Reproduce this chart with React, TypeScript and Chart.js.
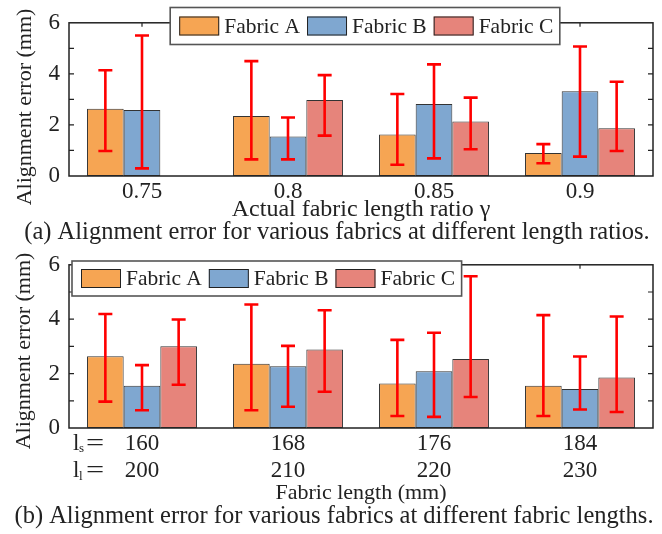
import React, { useEffect, useRef } from 'react';
import { Chart, registerables } from 'chart.js';

Chart.register(...registerables);

const FONT = "'Liberation Serif', 'Times New Roman', serif";
const TEXT = '#222222';

const seriesNames = ['Fabric A', 'Fabric B', 'Fabric C'];
const seriesColors = ['#F6A553', '#7FA7D0', '#E6847B'];
const yTicksShown = [0, 2, 4, 6];

// (a) length ratios
const ratioLabels = ['0.75', '0.8', '0.85', '0.9'];
const ratioMeanA = [2.63, 2.35, 1.63, 0.9];
const ratioMeanB = [2.58, 1.55, 2.82, 3.32];
const ratioMeanC = [null, 2.98, 2.13, 1.87];
const ratioLowA = [0.98, 0.65, 0.44, 0.5];
const ratioHighA = [4.14, 4.5, 3.21, 1.25];
const ratioLowB = [0.3, 0.65, 0.69, 0.76];
const ratioHighB = [5.5, 2.29, 4.37, 5.07];
const ratioLowC = [null, 1.58, 1.05, 0.98];
const ratioHighC = [null, 3.95, 3.07, 3.69];

// (b) fabric lengths
const shortLengthLabels = ['160', '168', '176', '184'];
const longLengthLabels = ['200', '210', '220', '230'];
const lengthMeanA = [2.64, 2.36, 1.64, 1.55];
const lengthMeanB = [1.55, 2.27, 2.09, 1.43];
const lengthMeanC = [3.01, 2.89, 2.54, 1.86];
const lengthLowA = [0.97, 0.65, 0.44, 0.44];
const lengthHighA = [4.19, 4.54, 3.24, 4.15];
const lengthLowB = [0.65, 0.78, 0.41, 0.68];
const lengthHighB = [2.31, 3.02, 3.5, 2.63];
const lengthLowC = [1.59, 1.33, 1.14, 0.59];
const lengthHighC = [3.99, 4.33, 5.58, 4.1];

type Spec = {
  labels: any[];
  means: (number | null)[][];
  lows: (number | null)[][];
  highs: (number | null)[][];
  height: number;
  padTop: number;
  xHeight: number;
  xTitle: string;
  xTitleSize: number;
  xTitlePadBottom: number;
  caption: string;
  captionX: number;
  captionY: number;
  yTitleX: number;
  yTitleY: number;
  legendAnchor: 'center' | 'left';
  legendX: number;
  legendTop: number;
  legendHeight: number;
  rowPrefixes?: string[][];
};

const specA: Spec = {
  labels: ratioLabels,
  means: [ratioMeanA, ratioMeanB, ratioMeanC],
  lows: [ratioLowA, ratioLowB, ratioLowC],
  highs: [ratioHighA, ratioHighB, ratioHighC],
  height: 250,
  padTop: 8,
  xHeight: 74,
  xTitle: 'Actual fabric length ratio γ',
  xTitleSize: 24,
  xTitlePadBottom: 25.6,
  caption: '(a) Alignment error for various fabrics at different length ratios.',
  captionX: 337,
  captionY: 233,
  yTitleX: 25,
  yTitleY: 107,
  legendAnchor: 'center',
  legendX: 365,
  legendTop: 7.5,
  legendHeight: 37,
};

const specB: Spec = {
  labels: shortLengthLabels.map((s, i) => [s, longLengthLabels[i]]),
  means: [lengthMeanA, lengthMeanB, lengthMeanC],
  lows: [lengthLowA, lengthLowB, lengthLowC],
  highs: [lengthHighA, lengthHighB, lengthHighC],
  height: 292,
  padTop: 19,
  xHeight: 106,
  xTitle: 'Fabric length (mm)',
  xTitleSize: 22,
  xTitlePadBottom: 27.8,
  caption: '(b) Alignment error for various fabrics at different fabric lengths.',
  captionX: 334,
  captionY: 275,
  yTitleX: 24,
  yTitleY: 109,
  legendAnchor: 'left',
  legendX: 72,
  legendTop: 19,
  legendHeight: 35,
  rowPrefixes: [['l', 's'], ['l', 'l']],
};

function makePlugin(spec: Spec) {
  return {
    id: 'panelDeco',
    afterDatasetsDraw(chart: any) {
      const ctx = chart.ctx;
      const ys = chart.scales.y;
      ctx.save();
      ctx.strokeStyle = '#FF0000';
      ctx.lineWidth = 2.6;
      chart.data.datasets.forEach((ds: any, i: number) => {
        const meta = chart.getDatasetMeta(i);
        meta.data.forEach((bar: any, j: number) => {
          const lo = ds.errLow[j];
          const hi = ds.errHigh[j];
          if (lo == null || hi == null) return;
          const x = bar.x;
          const y1 = ys.getPixelForValue(lo);
          const y2 = ys.getPixelForValue(hi);
          ctx.beginPath();
          ctx.moveTo(x, y1);
          ctx.lineTo(x, y2);
          ctx.moveTo(x - 7, y1);
          ctx.lineTo(x + 7, y1);
          ctx.moveTo(x - 7, y2);
          ctx.lineTo(x + 7, y2);
          ctx.stroke();
        });
      });
      ctx.restore();
    },
    afterDraw(chart: any) {
      const ctx = chart.ctx;
      const { left, right, top, bottom } = chart.chartArea;
      const xs = chart.scales.x;
      const ys = chart.scales.y;
      ctx.save();
      // box
      ctx.strokeStyle = '#222';
      ctx.lineWidth = 1.5;
      ctx.strokeRect(left, top, right - left, bottom - top);
      // inside ticks
      ctx.lineWidth = 1.2;
      ctx.beginPath();
      ys.ticks.forEach((t: any) => {
        if (t.value <= ys.min || t.value >= ys.max) return;
        const y = ys.getPixelForValue(t.value);
        ctx.moveTo(left, y);
        ctx.lineTo(left + 5, y);
        ctx.moveTo(right, y);
        ctx.lineTo(right - 5, y);
      });
      chart.data.labels.forEach((_: any, i: number) => {
        const x = xs.getPixelForValue(i);
        ctx.moveTo(x, top);
        ctx.lineTo(x, top + 4);
      });
      ctx.stroke();

      // legend
      ctx.font = `21.5px ${FONT}`;
      const widths = chart.data.datasets.map((d: any) => ctx.measureText(d.label).width);
      const sw = 40, sh = 19, gapT = 5, gapI = 7, padL = 9, padR = 6.5;
      let total = padL + padR;
      widths.forEach((w: number, i: number) => {
        total += sw + gapT + w + (i > 0 ? gapI : 0);
      });
      const x0 = spec.legendAnchor === 'center' ? spec.legendX - total / 2 : spec.legendX;
      const ly = spec.legendTop;
      const lh = spec.legendHeight;
      ctx.fillStyle = '#fff';
      ctx.fillRect(x0, ly, total, lh);
      ctx.strokeStyle = '#555';
      ctx.lineWidth = 1.6;
      ctx.strokeRect(x0, ly, total, lh);
      let cx = x0 + padL;
      const cy = ly + lh / 2;
      chart.data.datasets.forEach((d: any, i: number) => {
        ctx.fillStyle = d.backgroundColor;
        ctx.fillRect(cx, cy - sh / 2, sw, sh);
        ctx.strokeStyle = '#222';
        ctx.lineWidth = 1;
        ctx.strokeRect(cx + 0.5, cy - sh / 2 + 0.5, sw - 1, sh - 1);
        ctx.fillStyle = TEXT;
        ctx.textAlign = 'left';
        ctx.textBaseline = 'middle';
        ctx.fillText(d.label, cx + sw + gapT, cy + 1);
        cx += sw + gapT + widths[i] + gapI;
      });

      // y title
      ctx.save();
      ctx.translate(spec.yTitleX, spec.yTitleY);
      ctx.rotate(-Math.PI / 2);
      ctx.font = `22px ${FONT}`;
      ctx.fillStyle = TEXT;
      ctx.textAlign = 'center';
      ctx.textBaseline = 'middle';
      ctx.fillText('Alignment error (mm)', 0, 0);
      ctx.restore();

      // caption
      ctx.font = `24.5px ${FONT}`;
      ctx.fillStyle = TEXT;
      ctx.textAlign = 'center';
      ctx.textBaseline = 'middle';
      ctx.fillText(spec.caption, spec.captionX, spec.captionY);

      // row prefixes for multi-row tick labels
      if (spec.rowPrefixes) {
        const lineH = 23 * 1.2;
        spec.rowPrefixes.forEach((p, r) => {
          const y = xs.top + 2 + lineH / 2 + r * lineH;
          ctx.textAlign = 'left';
          ctx.textBaseline = 'middle';
          ctx.font = `23px ${FONT}`;
          ctx.fillText(p[0], 73, y);
          ctx.font = `13px ${FONT}`;
          ctx.fillText(p[1], 79, y + 5);
          ctx.save();
          ctx.translate(86, y);
          ctx.scale(1.4, 1);
          ctx.font = `23px ${FONT}`;
          ctx.fillText('=', 0, 0);
          ctx.restore();
        });
      }
      ctx.restore();
    },
  };
}

function buildConfig(spec: Spec): any {
  return {
    type: 'bar',
    data: {
      labels: spec.labels,
      datasets: seriesNames.map((name, i) => ({
        label: name,
        data: spec.means[i],
        errLow: spec.lows[i],
        errHigh: spec.highs[i],
        backgroundColor: seriesColors[i],
        borderColor: '#333',
        borderWidth: 1,
        borderSkipped: false,
        categoryPercentage: 0.753,
        barPercentage: 1,
      })),
    },
    options: {
      responsive: false,
      maintainAspectRatio: false,
      animation: false,
      devicePixelRatio: 1,
      layout: { padding: { left: 0, top: spec.padTop, right: 9, bottom: 0 } },
      plugins: { legend: { display: false }, tooltip: { enabled: false }, title: { display: false } },
      scales: {
        x: {
          border: { display: false },
          grid: { display: false, drawTicks: false },
          ticks: {
            padding: 2,
            maxRotation: 0,
            autoSkip: false,
            color: TEXT,
            font: { family: FONT, size: 23 },
          },
          title: {
            display: true,
            text: spec.xTitle,
            color: TEXT,
            font: { family: FONT, size: spec.xTitleSize },
            padding: { top: 0, bottom: spec.xTitlePadBottom },
          },
          afterFit: (s: any) => {
            s.height = spec.xHeight;
          },
        },
        y: {
          min: 0,
          max: 6,
          border: { display: false },
          grid: { display: false, drawTicks: false },
          ticks: {
            stepSize: 1,
            autoSkip: false,
            padding: 9,
            color: TEXT,
            font: { family: FONT, size: 23 },
            callback: (v: any) => (yTicksShown.includes(Number(v)) ? String(v) : ''),
          },
          afterFit: (s: any) => {
            s.width = 69;
          },
        },
      },
    },
    plugins: [makePlugin(spec)],
  };
}

function Panel({ spec, top }: { spec: Spec; top: number }) {
  const ref = useRef<HTMLCanvasElement>(null);
  useEffect(() => {
    const chart = new Chart(ref.current as HTMLCanvasElement, buildConfig(spec));
    return () => chart.destroy();
  }, []);
  return (
    <canvas
      ref={ref}
      width={662}
      height={spec.height}
      style={{ position: 'absolute', left: 0, top, width: 662, height: spec.height, display: 'block' }}
    />
  );
}

export default function App() {
  return (
    <div style={{ position: 'absolute', left: 0, top: 0, width: 662, height: 534, background: '#fff' }}>
      <Panel spec={specA} top={0} />
      <Panel spec={specB} top={242} />
    </div>
  );
}
